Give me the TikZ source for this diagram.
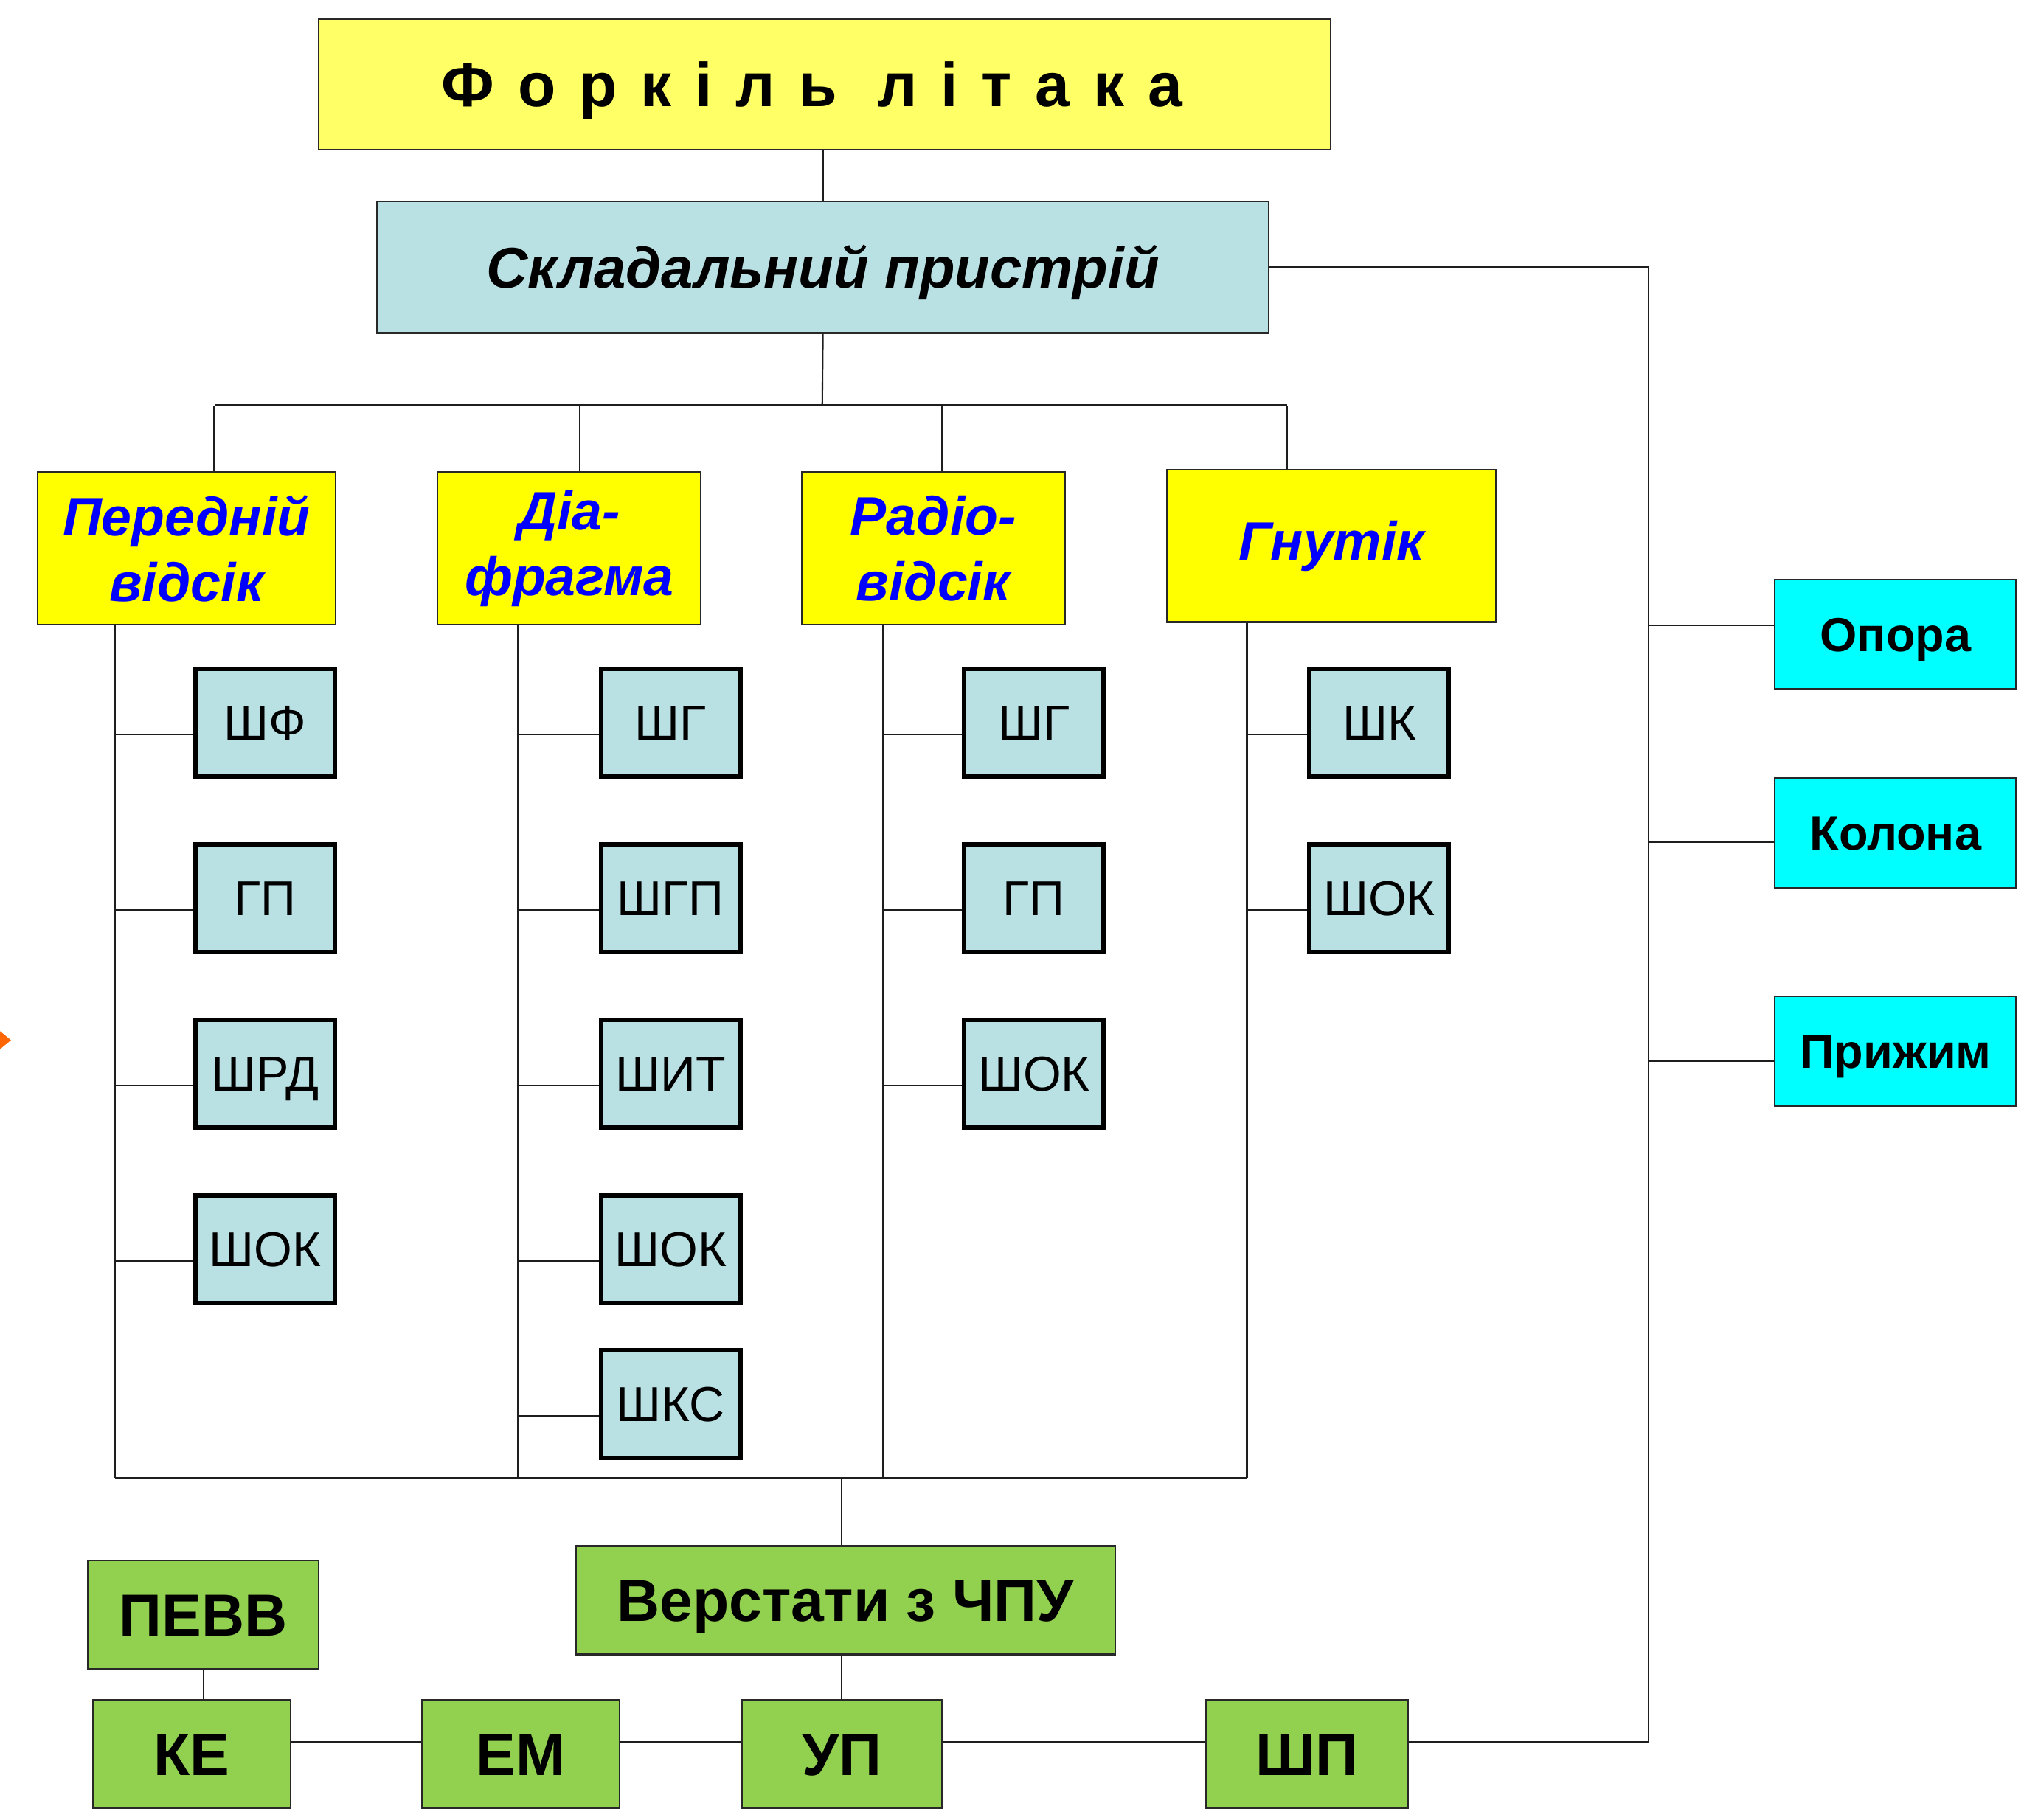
\documentclass[tikz,border=0pt]{standalone}
\usepackage{fontspec}
\setmainfont{Liberation Sans}
\newfontfamily\spacedfont[LetterSpace=38]{Liberation Sans}

\begin{document}
\begin{tikzpicture}[x=1pt,y=1pt,yscale=-1,xscale=1,
  box/.style={draw={rgb, 255:red, 40; green, 40; blue, 40},line width=1.2pt,inner sep=0pt,align=center},
  titlebox/.style={box,fill={rgb, 255:red, 255; green, 255; blue, 102},minimum width=784,minimum height=101,
    font=\spacedfont\bfseries\fontsize{48}{58}\selectfont,text height=34.4pt,text depth=0pt},
  fixbox/.style={box,fill={rgb, 255:red, 185; green, 224; blue, 227},minimum width=691,minimum height=102,
    font=\bfseries\itshape\fontsize{44.5}{53}\selectfont,text height=32pt,text depth=0pt},
  partbox/.style={box,fill={rgb, 255:red, 255; green, 255; blue, 0},minimum height=118,
    text={rgb, 255:red, 0; green, 0; blue, 255},font=\bfseries\itshape\fontsize{42}{51}\selectfont},
  toolbox/.style={box,draw=black,line width=3.5pt,fill={rgb, 255:red, 185; green, 224; blue, 227},
    minimum width=108,minimum height=83,font=\fontsize{38}{46}\selectfont,text height=27.4pt,text depth=0pt},
  unitbox/.style={box,fill={rgb, 255:red, 0; green, 255; blue, 255},minimum width=187,minimum height=85,
    font=\bfseries\fontsize{37}{44}\selectfont,text height=26.6pt,text depth=0pt},
  cncbox/.style={box,fill={rgb, 255:red, 146; green, 208; blue, 80},minimum height=84,
    font=\bfseries\fontsize{46}{55}\selectfont,text height=33pt,text depth=0pt},
  link/.style={line width=1.2pt,draw={rgb, 255:red, 30; green, 30; blue, 30}}
]
\useasboundingbox (0,0) rectangle (1568,1410);

\node [titlebox] (title) at (639,65.5) {Форкіль літака\hspace*{20pt}};
\node [fixbox] (fix) at (637.5,207) {Складальний пристрій};

\node [partbox,minimum width=231] (front) at (144.5,425) {Передній\\відсік};
\node [partbox,minimum width=204] (diaph) at (441,425) {Діа-\\фрагма};
\node [partbox,minimum width=204] (radio) at (723,425) {Радіо-\\відсік};
\node [partbox,minimum width=255] (flex) at (1031.5,423) {Гнутік};

\node [toolbox] (sf) at (205.5,560) {ШФ};
\node [toolbox] (gpa) at (205.5,696) {ГП};
\node [toolbox] (shrd) at (205.5,832) {ШРД};
\node [toolbox] (shoka) at (205.5,968) {ШОК};
\node [toolbox] (sga) at (519.5,560) {ШГ};
\node [toolbox] (sgp) at (519.5,696) {ШГП};
\node [toolbox] (shyt) at (519.5,832) {ШИТ};
\node [toolbox] (shokb) at (519.5,968) {ШОК};
\node [toolbox] (shks) at (519.5,1088) {ШКС};
\node [toolbox] (sgb) at (801,560) {ШГ};
\node [toolbox] (gpb) at (801,696) {ГП};
\node [toolbox] (shokc) at (801,832) {ШОК};
\node [toolbox] (shk) at (1068.5,560) {ШК};
\node [toolbox] (shokd) at (1068.5,696) {ШОК};

\node [unitbox] (opora) at (1468.5,491.5) {Опора};
\node [unitbox] (kolona) at (1468.5,645.5) {Колона};
\node [unitbox] (pryzhym) at (1468.5,814.5) {Прижим};

\node [cncbox,minimum width=179] (pevv) at (157.5,1251) {ПЕВВ};
\node [cncbox,minimum width=418] (cnc) at (655,1240) {Верстати з ЧПУ};
\node [cncbox,minimum width=153] (ke) at (148.5,1359) {КЕ};
\node [cncbox,minimum width=153] (em) at (403.5,1359) {ЕМ};
\node [cncbox,minimum width=155] (up) at (652.5,1359) {УП};
\node [cncbox,minimum width=157] (shp) at (1012.5,1359) {ШП};

\coordinate (bus) at (637,314);
\coordinate (d1) at (166,314);
\coordinate (d2) at (449,314);
\coordinate (d3) at (730,314);
\coordinate (d4) at (997,314);
\coordinate (t1) at (89,1145);
\coordinate (t2) at (401,1145);
\coordinate (t3) at (684,1145);
\coordinate (t4) at (966,1145);
\coordinate (mid) at (652,1145);
\coordinate (rt) at (1277,207);
\coordinate (rb) at (1277,1350);

\draw [link] (fix.north |- title.south) -- (fix.north);
\draw [link] (fix.south) -- (bus);
\draw [link] (d1) -- (d4);
\draw [link] (d1) -- (d1 |- front.north);
\draw [link] (d2) -- (d2 |- diaph.north);
\draw [link] (d3) -- (d3 |- radio.north);
\draw [link] (d4) -- (d4 |- flex.north);

\draw [link] (t1 |- front.south) -- (t1);
\draw [link] (t2 |- diaph.south) -- (t2);
\draw [link] (t3 |- radio.south) -- (t3);
\draw [link] (t4 |- flex.south) -- (t4);
\draw [link] (t1) -- (t4);

\foreach \n/\t in {sf/t1,gpa/t1,shrd/t1,shoka/t1,sga/t2,sgp/t2,shyt/t2,shokb/t2,shks/t2,sgb/t3,gpb/t3,shokc/t3,shk/t4,shokd/t4} {
  \coordinate (\n-in) at ([yshift=9pt]\n.west);
  \draw [link] (\n-in) -- (\n-in -| \t);
}

\draw [link] (mid) -- (mid |- cnc.north);
\draw [link] (mid |- cnc.south) -- (mid |- up.north);
\draw [link] (pevv.south) -- (pevv.south |- ke.north);
\draw [link,line width=2pt] ([yshift=-9pt]ke.east) -- ([yshift=-9pt]em.west);
\draw [link,line width=2pt] ([yshift=-9pt]em.east) -- ([yshift=-9pt]up.west);
\draw [link,line width=2pt] ([yshift=-9pt]up.east) -- ([yshift=-9pt]shp.west);
\draw [link,line width=2pt] ([yshift=-9pt]shp.east) -- (rb);

\draw [link] (fix.east) -- (rt);
\draw [link] (rt) -- (rb);
\coordinate (op-in) at ([yshift=-7pt]opora.west);
\coordinate (ko-in) at ([yshift=7pt]kolona.west);
\coordinate (pr-in) at ([yshift=8pt]pryzhym.west);
\draw [link] (op-in) -- (op-in -| rt);
\draw [link] (ko-in) -- (ko-in -| rt);
\draw [link] (pr-in) -- (pr-in -| rt);

\fill [fill={rgb, 255:red, 255; green, 102; blue, 0}] (0,799) -- (8.5,806) -- (0,813) -- cycle;
\end{tikzpicture}
\end{document}
